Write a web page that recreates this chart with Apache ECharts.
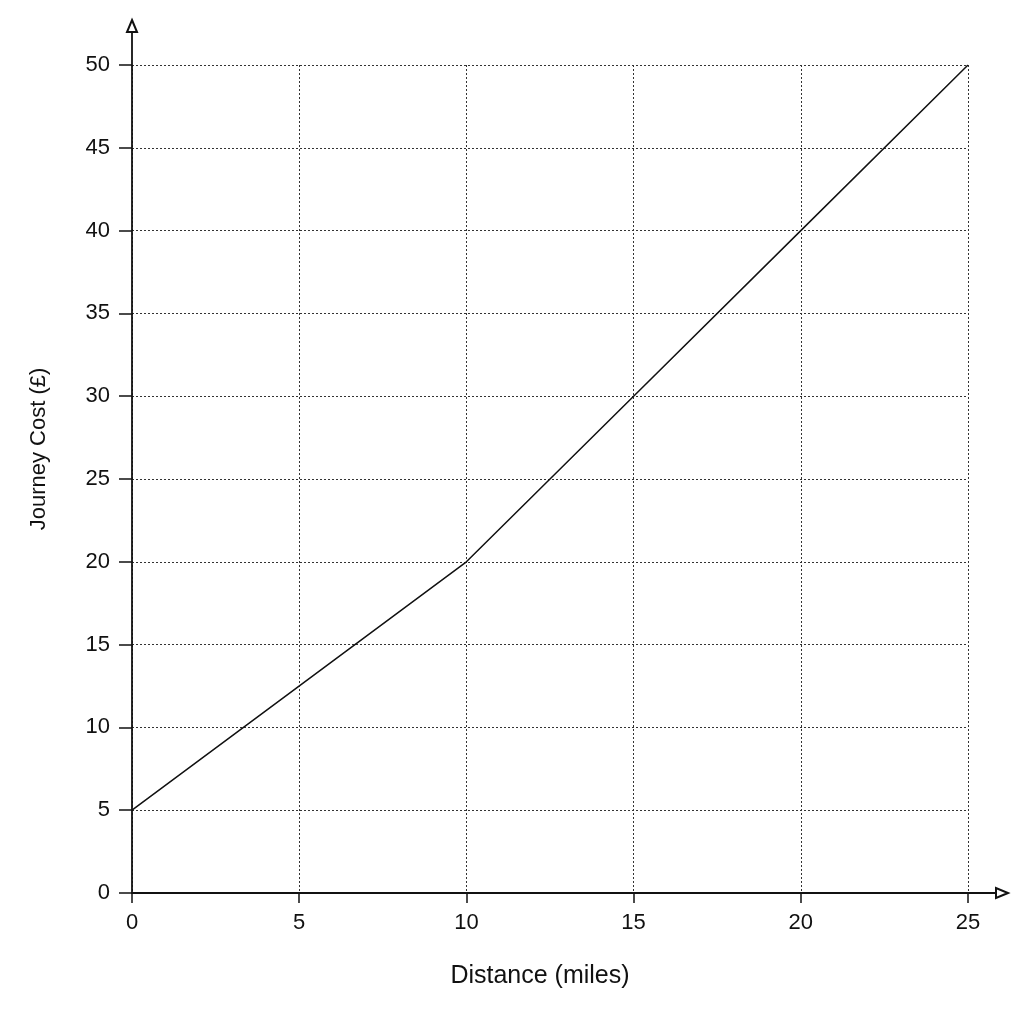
<!doctype html>
<meta charset="utf-8">
<style>
  html, body { margin: 0; padding: 0; width: 100%; height: 100%; background: #fff; }
  #chart { width: 1024px; height: 1024px; }
</style>
<script src="https://cdn.jsdelivr.net/npm/echarts@6/dist/echarts.min.js"></script>

<div id="chart"></div>

<script>
  const distance = [0, 10, 15, 20, 25];
  const cost = [5, 20, 30, 40, 50];
  const xName = 'Distance (miles)';
  const yName = 'Journey Cost (£)';

  const FONT = 'Liberation Sans, Arial, sans-serif';
  let chart = echarts.init(document.getElementById('chart'));

  chart.setOption({
    backgroundColor: '#fff',
    animation: false,
    grid: [
      { left: 132, right: 56, top: 65, bottom: 131 },
      // bigger box only used for the arrowed axis lines
      { left: 132, right: 22, top: 26, bottom: 131 }
    ],
    xAxis: [{
      gridIndex: 0,
      type: 'value',
      min: 0, max: 25, interval: 5,
      name: xName,
      nameLocation: 'middle',
      nameGap: 71,
      nameTextStyle: { fontSize: 25, color: '#111', fontFamily: FONT, padding: [0, 20, 0, 0] },
      axisLine: { show: false },
      axisTick: { show: true, length: 10, lineStyle: { color: '#111', width: 1.5 } },
      axisLabel: { margin: 19, fontSize: 22, color: '#111', fontFamily: FONT },
      splitLine: { show: true, lineStyle: { type: [2, 2], color: '#333', width: 1 } }
    }, {
      gridIndex: 1,
      type: 'value',
      min: 0, max: 1,
      axisLine: { show: true, symbol: ['none', 'emptyTriangle'], symbolSize: [10, 12], lineStyle: { color: '#111', width: 1.8 } },
      axisTick: { show: false },
      axisLabel: { show: false },
      splitLine: { show: false }
    }],
    yAxis: [{
      gridIndex: 0,
      type: 'value',
      min: 0, max: 50, interval: 5,
      name: yName,
      nameLocation: 'middle',
      nameGap: 82,
      nameTextStyle: { fontSize: 22, color: '#111', fontFamily: FONT, padding: [0, 0, 0, 60] },
      axisLine: { show: false },
      axisTick: { show: true, length: 13, lineStyle: { color: '#111', width: 1.5 } },
      axisLabel: { margin: 22, fontSize: 22, color: '#111', fontFamily: FONT },
      splitLine: { show: true, lineStyle: { type: [2, 2], color: '#333', width: 1 } }
    }, {
      gridIndex: 1,
      type: 'value',
      min: 0, max: 1,
      axisLine: { show: true, symbol: ['none', 'emptyTriangle'], symbolSize: [10, 12], lineStyle: { color: '#111', width: 1.8 } },
      axisTick: { show: false },
      axisLabel: { show: false },
      splitLine: { show: false }
    }],
    series: [{
      type: 'line',
      xAxisIndex: 0,
      yAxisIndex: 0,
      data: distance.map((d, i) => [d, cost[i]]),
      showSymbol: false,
      lineStyle: { color: '#111', width: 1.5 }
    }]
  });
</script>
